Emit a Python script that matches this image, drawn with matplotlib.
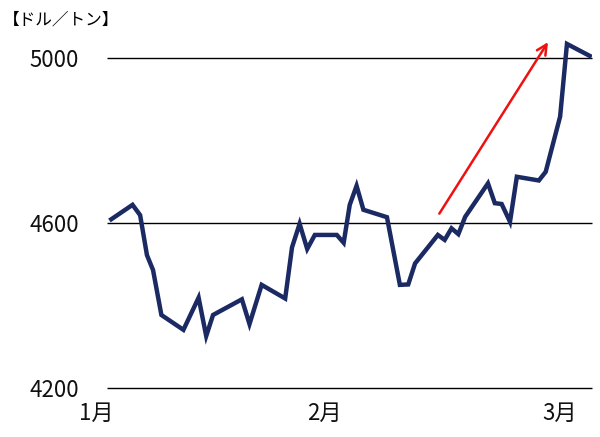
import matplotlib
matplotlib.use('Agg')
import matplotlib.pyplot as plt

plt.rcParams['font.family'] = ['Noto Sans CJK JP', 'DejaVu Sans']

# days since Jan 1 and price (USD/ton)
days = [2.0, 4.8, 5.8, 6.7, 7.5, 8.6, 11.5, 13.5, 14.5, 15.4, 19.2, 20.2, 21.8,
        24.9, 25.8, 26.8, 27.8, 28.8, 31.7, 32.6, 33.4, 34.3, 35.2, 38.3, 40.0,
        41.1, 42.0, 45.0, 45.9, 46.8, 47.7, 48.6, 51.6, 52.5, 53.4, 54.5, 55.4,
        58.3, 59.2, 61.1, 62.0, 65.0]
price = [4609, 4644, 4619, 4522, 4486, 4377, 4341, 4419, 4326, 4377, 4415, 4355,
         4450, 4417, 4541, 4598, 4537, 4571, 4571, 4552, 4644, 4690, 4632, 4614,
         4450, 4451, 4502, 4571, 4559, 4587, 4573, 4615, 4696, 4648, 4646, 4603,
         4712, 4703, 4724, 4858, 5034, 5005]

y_ticks = [4200, 4600, 5000]
month_pos = [0, 30, 61]
month_labels = ['1月', '2月', '3月']

# trend arrow (start, end)
arrow_start = (45.0, 4617)
arrow_end = (59.7, 5044)

fig = plt.figure(figsize=(6, 4.37), dpi=100)
ax = fig.add_axes([0.15, 0.1121, 0.8367, 0.8497])

x_min, x_max = -0.8, 65.3
ax.set_xlim(x_min, x_max)
ax.set_ylim(4200, 5100)

ax.hlines(y_ticks, 1.5, x_max, color='black', lw=1.0, zorder=1, clip_on=False)
ax.plot(days, price, color='#1b2a63', lw=3.2, solid_joinstyle='miter', zorder=3)

ax.annotate('', xy=arrow_end, xytext=arrow_start,
            arrowprops=dict(arrowstyle='->', color='#ee1111', lw=1.8,
                            mutation_scale=18), zorder=4)

for s in ax.spines.values():
    s.set_visible(False)
ax.set_yticks(y_ticks)
ax.set_yticklabels([str(v) for v in y_ticks])
ax.set_xticks(month_pos)
ax.set_xticklabels(month_labels)
ax.tick_params(axis='both', length=0, labelsize=16, labelcolor='#111111')
ax.tick_params(axis='y', pad=8)
ax.tick_params(axis='x', pad=10)

fig.text(0.005, 0.955, '【ドル／トン】', fontsize=12, va='center', ha='left')

fig.savefig('out.png', dpi=100)
